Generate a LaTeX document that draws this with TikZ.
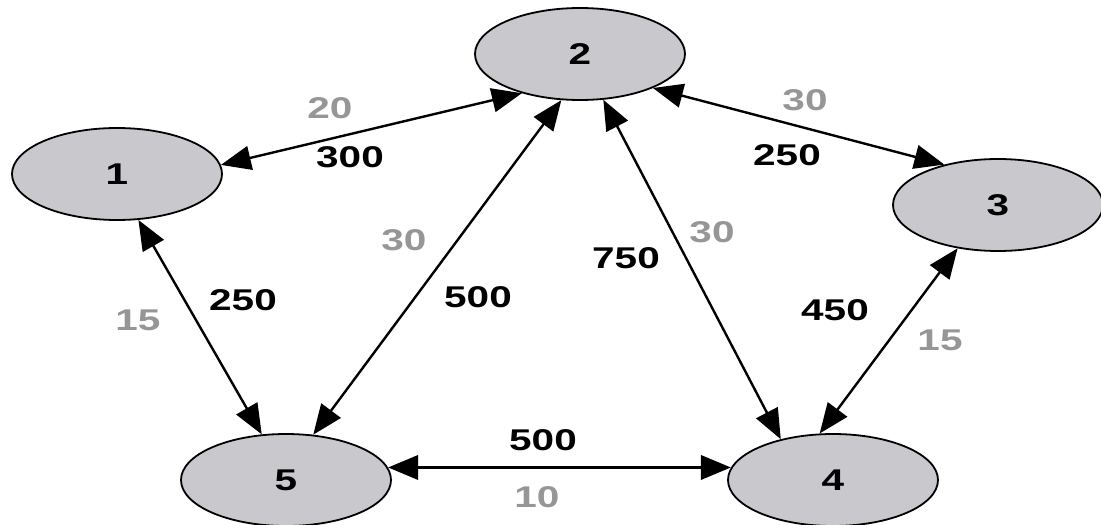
\documentclass[tikz,border=0pt]{standalone}
\usepackage{fontspec}
\setmainfont{Liberation Sans}[FakeStretch=1.35]
\usetikzlibrary{shapes.geometric,arrows.meta}
\definecolor{nodefill}{RGB}{200,200,205}
\definecolor{lblgray}{RGB}{150,150,150}
\tikzset{
  bigtip/.tip={Triangle[length=30pt,width=24pt]},
}
\begin{document}
\begin{tikzpicture}[x=1pt,y=-1pt,
  vert/.style={ellipse,draw=black,line width=1.8pt,fill=nodefill,minimum width=210pt,minimum height=92pt,inner sep=0pt,font=\fontsize{30}{30}\selectfont\bfseries},
  link/.style={line width=2.4pt,bigtip-bigtip},
  wt/.style={font=\fontsize{30}{30}\selectfont\bfseries,text=black,inner sep=0pt},
  ct/.style={wt,text=lblgray}]
\useasboundingbox (0,0) rectangle (1101,525);
\fill[white] (0,0) rectangle (1101,525);
\node[vert] (n1) at (117,174) {1};
\node[vert] (n2) at (580,54) {2};
\node[vert] (n3) at (998,205) {3};
\node[vert] (n4) at (833,480) {4};
\node[vert] (n5) at (286,480) {5};
\draw[link] (n1.5) -- (n2.214);
\draw[link] (n2.335) -- (n3.143);
\draw[link] (n2.248) -- (n5.59);
\draw[link] (n2.297) -- (n4.142);
\draw[link] (n1.295) -- (n5.118);
\draw[link] (n3.227) -- (n4.106);
\draw[link,line width=3.6pt] (n5.7) -- (n4.173);
\node[ct] (l12a) at (330,108) {20};
\node[wt] (l12b) at (350,157) {300};
\node[ct] (l23a) at (805,100) {30};
\node[wt] (l23b) at (787,155) {250};
\node[ct] (l25a) at (404,240) {30};
\node[wt] (l25b) at (478,297) {500};
\node[wt] (l24a) at (626,258) {750};
\node[ct] (l24b) at (712,232) {30};
\node[ct] (l15a) at (138,320) {15};
\node[wt] (l15b) at (243,300) {250};
\node[wt] (l34a) at (835,310) {450};
\node[ct] (l34b) at (940,340) {15};
\node[wt] (l54a) at (543,440) {500};
\node[ct] (l54b) at (537,497) {10};
\end{tikzpicture}
\end{document}
